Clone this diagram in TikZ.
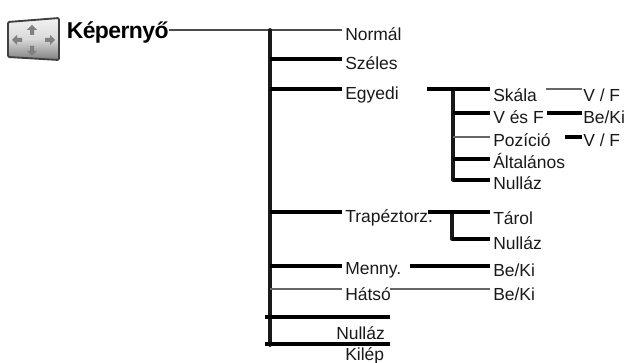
\documentclass[tikz,border=0pt]{standalone}
\usepackage{fontspec}
\setmainfont{Liberation Sans}
\newfontfamily\titlefont[LetterSpace=-2.5,BoldFont={Liberation Sans Bold}]{Liberation Sans}
\usetikzlibrary{calc}
\tikzset{
  lab/.style={anchor=west,inner sep=0pt,font=\fontsize{13.1pt}{14pt}\selectfont,text=black!90},
  heavy/.style={draw=black,line width=2.5pt,line cap=butt},
  spine/.style={draw=black!90,line width=2.8pt,line cap=round},
  fine/.style={draw=black!60,line width=1.6pt},
  medium/.style={draw=black!70,line width=1.7pt},
  rulebar/.style={draw=black,line width=2.3pt},
  arr/.style={fill=black!50,draw=none}
}
\begin{document}
\begin{tikzpicture}[x=0.75pt,y=-0.75pt]
\useasboundingbox (0,0) rectangle (624,363);
% icon
\shade[top color=black!5,bottom color=black!50,middle color=black!15,draw=black!75,line width=1.4pt,rounded corners=1pt]
  (8,22) -- (59,18) -- (59,60) -- (8,57) -- cycle;
\foreach \c/\r in {{32,31}/90,{32,50}/270,{18,40}/180,{49,40}/0}{
  \fill[arr,shift={(\c)},rotate=\r] (-4,-2) -- (1,-2) -- (1,-5) -- (6,0) -- (1,5) -- (1,2) -- (-4,2) -- cycle;
}
% labels
\node[anchor=west,inner sep=0pt,font=\fontsize{17.2pt}{18pt}\titlefont\bfseries] (title) at (66.5,32) {Képernyő};
\node[lab] (normal) at (345,34) {Normál};
\node[lab] (szeles) at (345,63) {Széles};
\node[lab] (egyedi) at (345,95) {Egyedi};
\node[lab] (skala) at (493,95) {Skála};
\node[lab] (ves) at (493,117) {V és F};
\node[lab] (pozicio) at (493,140) {Pozíció};
\node[lab] (altalanos) at (493,161) {Általános};
\node[lab] (nullazb) at (493,183) {Nulláz};
\node[lab] (vf1) at (583,95) {V / F};
\node[lab] (beki1) at (583,117) {Be/Ki};
\node[lab] (vf2) at (583,140) {V / F};
\node[lab] (trapez) at (345,218) {Trapéztorz.};
\node[lab] (tarol) at (493,218) {Tárol};
\node[lab] (nullazc) at (493,243) {Nulláz};
\node[lab] (menny) at (345,270) {Menny.};
\node[lab] (beki2) at (493,270) {Be/Ki};
\node[lab] (hatso) at (345,294) {Hátsó};
\node[lab] (beki3) at (493,294) {Be/Ki};
\node[lab] (nullaza) at (336,333) {Nulláz};
\node[lab] (kilep) at (345,355.5) {Kilép};
% junction points
\coordinate (top) at (270,30);
\coordinate (bot) at (270,345);
\coordinate (subtop) at (453,89);
\coordinate (subbot) at (453,180);
\coordinate (trtop) at (452,212);
\coordinate (trbot) at (452,239);
\coordinate (egystart) at (427,89);
\coordinate (sk) at (546,89);
\coordinate (vs) at (547,113);
\coordinate (po) at (565,137);
\coordinate (trstart) at (428,212);
\coordinate (mestart) at (410,266);
\coordinate (hastart) at (390,289);
\coordinate (ra) at (265,317);
\coordinate (rb) at (390,317);
\coordinate (rc) at (265,344);
\coordinate (rd) at (390,344);
% connectors
\draw[medium] (top -| title.east) -- (342,30);
\draw[spine] (top) -- (bot);
\draw[heavy] (270,59) -- (342,59);
\draw[heavy] (270,89) -- (342,89);
\draw[heavy] (270,212) -- (342,212);
\draw[heavy] (270,266) -- (342,266);
\draw[fine] (270,289) -- (342,289);
\draw[spine] (subtop) -- (subbot);
\draw[heavy] (egystart) -- (490,89);
\draw[heavy] (453,113) -- (490,113);
\draw[fine] (453,137) -- (490,137);
\draw[heavy] (453,159) -- (490,159);
\draw[heavy] (subbot) -- (490,180);
\draw[fine] (sk) -- (582,89);
\draw[heavy] (vs) -- (582,113);
\draw[heavy] (po) -- (582,137);
\draw[spine] (trtop) -- (trbot);
\draw[heavy] (trstart) -- (490,212);
\draw[heavy] (trbot) -- (490,239);
\draw[heavy] (mestart) -- (490,266);
\draw[fine] (hastart) -- (490,289);
\draw[rulebar] (ra) -- (rb);
\draw[rulebar] (rc) -- (rd);
\end{tikzpicture}
\end{document}
